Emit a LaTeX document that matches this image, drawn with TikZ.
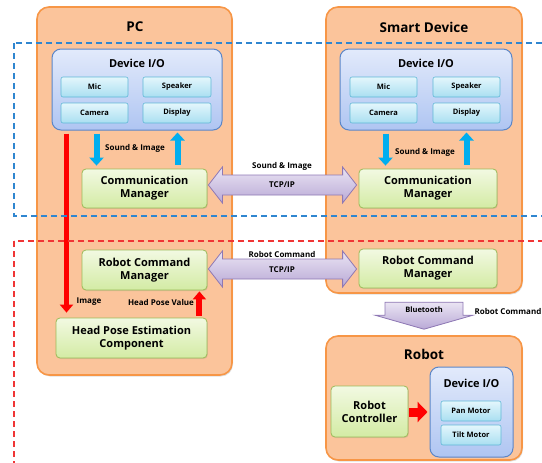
\documentclass[tikz,border=0pt]{standalone}
\usepackage{fontspec}
\setmainfont{Open Sans}
\usetikzlibrary{arrows.meta,calc,shadows}
\definecolor{peach}{HTML}{FBC49B}
\definecolor{orgB}{HTML}{F79646}
\definecolor{devB}{HTML}{5B86C8}
\definecolor{devT}{HTML}{E2EAFB}
\definecolor{devBot}{HTML}{AFC5F2}
\definecolor{itB}{HTML}{5FB8D6}
\definecolor{itT}{HTML}{E4F6FC}
\definecolor{itBot}{HTML}{A9DFF1}
\definecolor{grB}{HTML}{9BBB59}
\definecolor{grT}{HTML}{F2F9E2}
\definecolor{grBot}{HTML}{D3EBA4}
\definecolor{puB}{HTML}{8E78B4}
\definecolor{puT}{HTML}{EAE4F3}
\definecolor{puBot}{HTML}{B9A9D6}
\definecolor{skyA}{HTML}{00AEEF}
\definecolor{dashBlue}{HTML}{2F86D0}
\definecolor{dashRed}{HTML}{F03535}
\newcommand\myDblArrow[3]{% left tip, right tip, style
  \draw[#3] (#1) -- ($(#1)+(14,-18)$) -- ($(#1)+(14,-10)$) -- ($(#2)+(-14,-10)$) -- ($(#2)+(-14,-18)$) -- (#2)
    -- ($(#2)+(-14,18)$) -- ($(#2)+(-14,10)$) -- ($(#1)+(14,10)$) -- ($(#1)+(14,18)$) -- cycle;}
\begin{document}
\begin{tikzpicture}[x=1pt,y=-1pt,font=\bfseries,
  container/.style={draw=orgB,line width=1.6pt,fill=peach,rounded corners=12pt,
     drop shadow={shadow xshift=1pt,shadow yshift=-1.5pt,opacity=0.25}},
  devbox/.style={draw=devB,line width=1pt,top color=devT,bottom color=devBot,rounded corners=9pt,inner sep=0pt},
  itembox/.style={draw=itB,line width=0.6pt,top color=itT,bottom color=itBot,rounded corners=2pt,
     font=\bfseries\fontsize{7.5}{9}\selectfont,inner sep=0pt,minimum height=20pt},
  greenbox/.style={draw=grB,line width=0.8pt,top color=grT,bottom color=grBot,rounded corners=4pt,align=center,
     font=\bfseries\fontsize{11}{13}\selectfont,inner sep=0pt,
     drop shadow={shadow xshift=0.8pt,shadow yshift=-1pt,opacity=0.2}},
  title/.style={font=\bfseries\fontsize{13.5}{15}\selectfont},
  devtitle/.style={font=\bfseries\fontsize{11}{13}\selectfont},
  small/.style={font=\bfseries\fontsize{8}{9}\selectfont,inner sep=0pt},
  purp/.style={draw=puB,line width=0.8pt,top color=puT,bottom color=puBot},
  bluearr/.style={draw=skyA,line width=6pt,-{Triangle[width=14pt,length=8pt]}},
  redarr/.style={draw=red,line width=5pt,-{Triangle[width=13pt,length=8pt]}},
  dashframe/.style={line width=1.4pt,dash pattern=on 6pt off 4pt}
]
\useasboundingbox (0,0) rectangle (542,463);
% containers
\node[container,minimum width=195pt,minimum height=368pt] (pc) at (134.5,191) {};
\node[container,minimum width=196pt,minimum height=286pt] (sd) at (424,150) {};
\node[container,minimum width=196pt,minimum height=124pt] (robot) at (424,398) {};
\node[title] (pct) at (135,27) {PC};
\node[title] (sdt) at (424,27) {Smart Device};
\node[title] (rbt) at (424,354) {Robot};
% PC device I/O
\node[devbox,minimum width=170pt,minimum height=81pt] (pcdev) at (137,89.5) {};
\node[devtitle] (pcdevt) at (137,63) {Device I/O};
\node[itembox,minimum width=67pt] (pcmic) at (94.5,87) {Mic};
\node[itembox,minimum width=68pt] (pcspk) at (177,87) {Speaker};
\node[itembox,minimum width=67pt] (pccam) at (94.5,113) {Camera};
\node[itembox,minimum width=68pt] (pcdsp) at (177,113) {Display};
% SD device I/O
\node[devbox,minimum width=172pt,minimum height=81pt] (sddev) at (426,89.5) {};
\node[devtitle] (sddevt) at (426,63) {Device I/O};
\node[itembox,minimum width=67pt] (sdmic) at (383.5,87) {Mic};
\node[itembox,minimum width=67pt] (sdspk) at (466.5,87) {Speaker};
\node[itembox,minimum width=67pt] (sdcam) at (383.5,113) {Camera};
\node[itembox,minimum width=67pt] (sddsp) at (466.5,113) {Display};
% green boxes
\node[greenbox,minimum width=125pt,minimum height=39pt] (pccm) at (144.5,188.5) {Communication\\Manager};
\node[greenbox,minimum width=125pt,minimum height=40pt] (pcrcm) at (144.5,270) {Robot Command\\Manager};
\node[greenbox,minimum width=151pt,minimum height=40pt] (pchp) at (131.5,338) {Head Pose Estimation\\Component};
\node[greenbox,minimum width=138pt,minimum height=39pt] (sdcm) at (428,188.5) {Communication\\Manager};
\node[greenbox,minimum width=138pt,minimum height=39pt] (sdrcm) at (428,268.5) {Robot Command\\Manager};
\node[greenbox,minimum width=77pt,minimum height=51pt] (rc) at (369.5,411.5) {Robot\\Controller};
% robot device I/O
\node[devbox,minimum width=83pt,minimum height=90pt] (rdev) at (471.5,412) {};
\node[devtitle] (rdevt) at (471.5,383) {Device I/O};
\node[itembox,minimum width=60pt] (pan) at (471,411) {Pan Motor};
\node[itembox,minimum width=60pt] (tilt) at (471,435) {Tilt Motor};
% blue arrows
\draw[bluearr] ($(pcdev.south west)+(45,3)$) -- ($(pcdev.south west |- pccm.north)+(45,-3)$);
\draw[bluearr] ($(pcdev.south west |- pccm.north)+(126,-4)$) -- ($(pcdev.south west)+(126,2)$);
\draw[bluearr] ($(sddev.south west)+(46,3)$) -- ($(sddev.south west |- sdcm.north)+(46,-3)$);
\draw[bluearr] ($(sddev.south west |- sdcm.north)+(127,-4)$) -- ($(sddev.south west)+(127,2)$);
\node[small] (lsi1) at (135,148) {Sound \& Image};
\node[small] (lsi2) at (425,152) {Sound \& Image};
% red arrows
\draw[redarr] ($(pcdev.south west)+(15,3)$) -- ($(pcdev.south west |- pchp.north)+(15,-5)$);
\draw[redarr,line width=6pt] ($(pchp.north east)+(-8,-2)$) -- ($(pcrcm.south east)+(-8,1)$);
\node[small] (limg) at (89,302) {Image};
\node[small] (lhpv) at (161,302) {Head Pose Value};
\draw[draw=red,line width=9pt,-{Triangle[width=20pt,length=10pt]}] ($(rc.east)+(1,0.5)$) -- ($(rdev.west)+(-2,0)$);
% purple double arrows
\coordinate (a1l) at ($(pccm.east)+(1,-3.5)$);
\coordinate (a1r) at ($(sdcm.west)+(-2,-3.5)$);
\myDblArrow{a1l}{a1r}{purp}
\coordinate (a2l) at ($(pcrcm.east)+(1,-1)$);
\coordinate (a2r) at ($(sdrcm.west)+(-2,0.5)$);
\myDblArrow{a2l}{a2r}{purp}
\node[small] (lsi3) at (282,166) {Sound \& Image};
\node[small] (ltcp1) at (282,185) {TCP/IP};
\node[small] (lrc1) at (282,254) {Robot Command};
\node[small] (ltcp2) at (282,269.5) {TCP/IP};
% bluetooth arrow
\coordinate (bt) at ($(robot.north)+(0,-33)$);
\coordinate (btip) at ($(robot.north)+(0,-6)$);
\draw[purp] ($(bt)+(-39,0)$) -- ($(bt)+(39,0)$) -- ($(btip)+(39,-14)$) -- ($(btip)+(49,-14)$) -- (btip)
   -- ($(btip)+(-49,-14)$) -- ($(btip)+(-39,-14)$) -- cycle;
\node[small,font=\bfseries\fontsize{7.5}{8.5}\selectfont] (lbt) at (424,310) {Bluetooth};
\node[small] (lrc2) at (508,311) {Robot Command};
% dashed frames
\draw[dashframe,draw=dashBlue] (14,43) rectangle (560,216);
\draw[dashframe,draw=dashRed] (14,241) rectangle (560,480);
\end{tikzpicture}
\end{document}
